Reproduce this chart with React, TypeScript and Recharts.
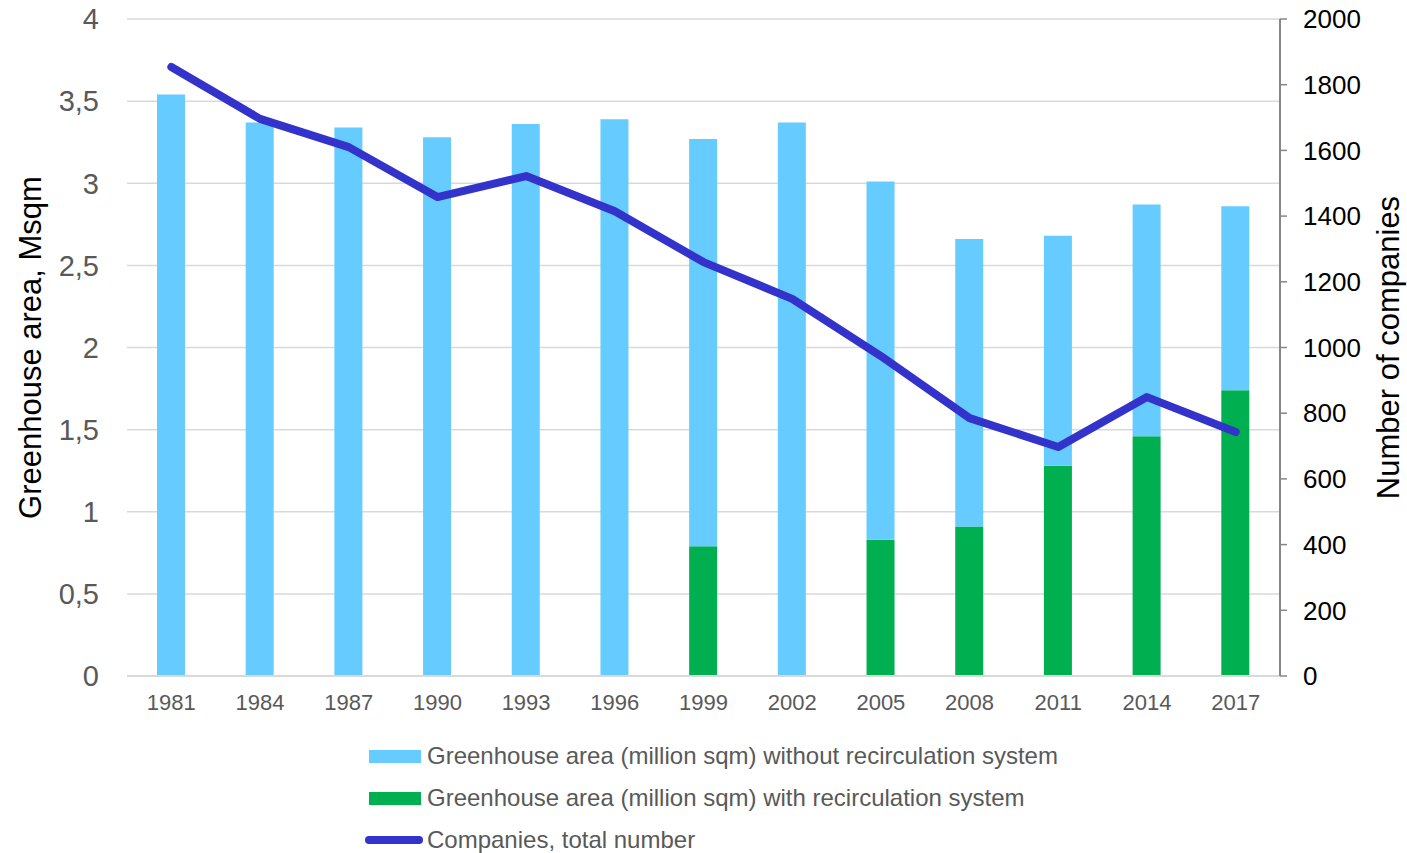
import { ComposedChart, Bar, Line, XAxis, YAxis, CartesianGrid, Legend } from 'recharts'

const years = ['1981', '1984', '1987', '1990', '1993', '1996', '1999', '2002', '2005', '2008', '2011', '2014', '2017']
const areaWithout = [3.54, 3.37, 3.34, 3.28, 3.36, 3.39, 2.48, 3.37, 2.18, 1.75, 1.4, 1.41, 1.12]
const areaWith = [0, 0, 0, 0, 0, 0, 0.79, 0, 0.83, 0.91, 1.28, 1.46, 1.74]
const companies = [1854, 1696, 1610, 1458, 1522, 1415, 1260, 1148, 974, 785, 697, 849, 743]

const leftTicks = [0, 0.5, 1, 1.5, 2, 2.5, 3, 3.5, 4]
const rightTicks = [0, 200, 400, 600, 800, 1000, 1200, 1400, 1600, 1800, 2000]

const labels = {
  without: 'Greenhouse area (million sqm) without recirculation system',
  with: 'Greenhouse area (million sqm) with recirculation system',
  companies: 'Companies, total number',
}

const font = '"Liberation Sans", Arial, sans-serif'

const data = years.map((year, i) => ({
  year,
  without: areaWithout[i],
  with: areaWith[i],
  companies: companies[i],
}))

const renderLegend = () => {
  const row = { display: 'flex', alignItems: 'center', height: 42 }
  const text = { fontSize: 24, color: '#595959', fontFamily: font }
  return (
    <div>
      <div style={row}>
        <span style={{ width: 52, height: 13, background: '#66CCFF', marginLeft: 4, marginRight: 6 }} />
        <span style={text}>{labels.without}</span>
      </div>
      <div style={row}>
        <span style={{ width: 52, height: 13, background: '#00B050', marginLeft: 4, marginRight: 6 }} />
        <span style={text}>{labels.with}</span>
      </div>
      <div style={row}>
        <span style={{ width: 58, height: 8, borderRadius: 4, background: '#3333CC', marginRight: 4 }} />
        <span style={text}>{labels.companies}</span>
      </div>
    </div>
  )
}

export default function App() {
  return (
    <div style={{ position: 'absolute', left: 0, top: 0, background: '#fff' }}>
      <ComposedChart
        width={1407}
        height={853}
        data={data}
        margin={{ top: 19, right: 0, left: 0, bottom: 137 }}
        style={{ fontFamily: font }}
      >
        <CartesianGrid yAxisId="left" vertical={false} stroke="#d9d9d9" strokeWidth={1.5} />
        <XAxis
          dataKey="year"
          height={40}
          axisLine={{ stroke: '#d9d9d9', strokeWidth: 2 }}
          tickLine={false}
          tickSize={6}
          tickMargin={12}
          tick={{ fill: '#595959', fontSize: 22 }}
        />
        <YAxis
          yAxisId="left"
          width={127}
          domain={[0, 4]}
          ticks={leftTicks}
          axisLine={false}
          tickLine={false}
          tickSize={6}
          tickMargin={22}
          tick={{ fill: '#595959', fontSize: 29 }}
          tickFormatter={(v: number) => String(v).replace('.', ',')}
          label={{
            value: 'Greenhouse area, Msqm',
            angle: -90,
            position: 'insideLeft',
            offset: 30,
            style: { textAnchor: 'middle', fill: '#000', fontSize: 31 },
          }}
        />
        <YAxis
          yAxisId="right"
          orientation="right"
          width={127}
          domain={[0, 2000]}
          ticks={rightTicks}
          axisLine={{ stroke: '#868686', strokeWidth: 2 }}
          tickLine={{ stroke: '#868686', strokeWidth: 1.5 }}
          tickSize={7}
          tickMargin={16}
          tick={{ fill: '#000', fontSize: 26 }}
          label={{
            value: 'Number of companies',
            angle: -90,
            position: 'insideRight',
            offset: 19,
            style: { textAnchor: 'middle', fill: '#000', fontSize: 31 },
          }}
        />
        <Bar yAxisId="left" dataKey="with" stackId="a" fill="#00B050" barSize={28} isAnimationActive={false} />
        <Bar yAxisId="left" dataKey="without" stackId="a" fill="#66CCFF" barSize={28} isAnimationActive={false} />
        <Line
          yAxisId="right"
          dataKey="companies"
          stroke="#3333CC"
          strokeWidth={8}
          strokeLinecap="round"
          strokeLinejoin="round"
          dot={false}
          activeDot={false}
          isAnimationActive={false}
        />
        <Legend
          layout="vertical"
          align="center"
          verticalAlign="middle"
          content={renderLegend}
          wrapperStyle={{ left: 365, top: 735, width: 800, bottom: 'auto', right: 'auto' }}
        />
      </ComposedChart>
    </div>
  )
}
